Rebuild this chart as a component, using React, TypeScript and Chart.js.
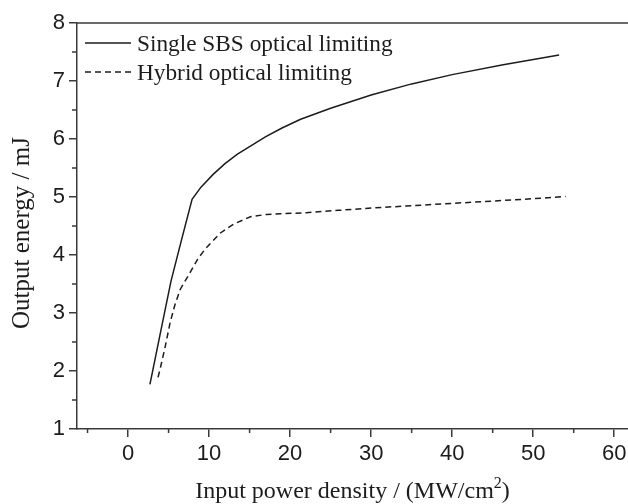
import { useEffect, useRef } from 'react';
import { Chart, registerables } from 'chart.js';

Chart.register(...registerables);

// ---- data ----
const solidX = [2.7, 4.0, 5.3, 6.6, 7.9, 9.0, 10.5, 12.0, 13.5, 15.0, 17.0, 19.0, 21.3, 25.0, 30.0, 35.0, 40.0, 46.3, 53.2];
const solidY = [1.77, 2.66, 3.55, 4.26, 4.96, 5.17, 5.39, 5.58, 5.74, 5.87, 6.04, 6.19, 6.34, 6.53, 6.76, 6.95, 7.11, 7.28, 7.45];

const hybridX = [3.7, 4.0, 4.6, 5.2, 5.8, 6.45, 7.5, 8.6, 9.5, 11.4, 13.0, 15.1, 17.1, 18.8, 22.0, 26.0, 30.0, 35.0, 40.0, 45.0, 50.0, 54.0];
const hybridY = [1.89, 2.06, 2.43, 2.84, 3.15, 3.41, 3.66, 3.93, 4.10, 4.38, 4.53, 4.66, 4.70, 4.71, 4.73, 4.77, 4.81, 4.85, 4.89, 4.93, 4.97, 5.01];

const xTickValues = [0, 10, 20, 30, 40, 50, 60];
const xMinorTickValues = [-5, 5, 15, 25, 35, 45, 55];
const yTickValues = [1, 2, 3, 4, 5, 6, 7, 8];
const yMinorTickValues = [1.5, 2.5, 3.5, 4.5, 5.5, 6.5, 7.5];

const seriesLabels = ['Single SBS optical limiting', 'Hybrid optical limiting'];
const xTitleMain = 'Input power density / (MW/cm';
const xTitleSup = '2';
const xTitleEnd = ')';
const yTitle = 'Output energy / mJ';

const X_MIN = -6.3;
const X_MAX = 61.7;
const Y_MIN = 1;
const Y_MAX = 8;

const INK = '#1c1c1c';
const AXIS = '#3a3a3a';
const SERIF = '"Liberation Serif", "DejaVu Serif", serif';
const SANS = '"Liberation Sans", Arial, sans-serif';

export default function App() {
  const ref = useRef<HTMLCanvasElement>(null);

  useEffect(() => {
    document.body.style.margin = '0';
    const canvas = ref.current;
    if (!canvas) return;

    const decorPlugin = {
      id: 'decor',
      afterDraw(chart: any) {
        const { ctx, chartArea: a, scales } = chart;
        const xs = scales.x;
        const ys = scales.y;
        ctx.save();
        // top frame line
        ctx.strokeStyle = AXIS;
        ctx.lineWidth = 1.5;
        ctx.beginPath();
        ctx.moveTo(a.left, a.top);
        ctx.lineTo(a.right + 2, a.top);
        ctx.stroke();
        // minor ticks
        ctx.beginPath();
        for (const v of xMinorTickValues) {
          const px = xs.getPixelForValue(v);
          ctx.moveTo(px, a.bottom);
          ctx.lineTo(px, a.bottom + 4);
        }
        for (const v of yMinorTickValues) {
          const py = ys.getPixelForValue(v);
          ctx.moveTo(a.left, py);
          ctx.lineTo(a.left - 5, py);
        }
        ctx.stroke();

        // legend
        ctx.strokeStyle = INK;
        ctx.lineWidth = 1.5;
        ctx.setLineDash([]);
        ctx.beginPath();
        ctx.moveTo(85, 43);
        ctx.lineTo(131, 43);
        ctx.stroke();
        ctx.setLineDash([6, 4]);
        ctx.beginPath();
        ctx.moveTo(85, 72);
        ctx.lineTo(131, 72);
        ctx.stroke();
        ctx.setLineDash([]);
        ctx.fillStyle = INK;
        ctx.font = `23.3px ${SERIF}`;
        ctx.textAlign = 'left';
        ctx.textBaseline = 'alphabetic';
        ctx.fillText(seriesLabels[0], 137, 51);
        ctx.fillText(seriesLabels[1], 137, 80);

        // x title with superscript
        const mainFont = `24px ${SERIF}`;
        const supFont = `16px ${SERIF}`;
        ctx.font = mainFont;
        const w1 = ctx.measureText(xTitleMain).width;
        const w3 = ctx.measureText(xTitleEnd).width;
        ctx.font = supFont;
        const w2 = ctx.measureText(xTitleSup).width;
        const total = w1 + w2 + w3;
        const cx = (a.left + a.right) / 2;
        const x0 = cx - total / 2;
        const base = 498;
        ctx.font = mainFont;
        ctx.fillText(xTitleMain, x0, base);
        ctx.font = supFont;
        ctx.fillText(xTitleSup, x0 + w1, base - 10);
        ctx.font = mainFont;
        ctx.fillText(xTitleEnd, x0 + w1 + w2, base);

        // y title
        ctx.translate(22, 233);
        ctx.rotate(-Math.PI / 2);
        ctx.textAlign = 'center';
        ctx.textBaseline = 'middle';
        ctx.font = `25px ${SERIF}`;
        ctx.fillText(yTitle, 0, 0);
        ctx.restore();
      },
    };

    const chart = new Chart(canvas, {
      type: 'scatter',
      data: {
        datasets: [
          {
            label: seriesLabels[0],
            data: solidX.map((x, i) => ({ x, y: solidY[i] })),
            showLine: true,
            borderColor: INK,
            borderWidth: 1.5,
            pointRadius: 0,
            tension: 0,
          },
          {
            label: seriesLabels[1],
            data: hybridX.map((x, i) => ({ x, y: hybridY[i] })),
            showLine: true,
            borderColor: INK,
            borderWidth: 1.5,
            borderDash: [6, 4],
            pointRadius: 0,
            tension: 0,
          },
        ],
      },
      options: {
        animation: false,
        responsive: false,
        layout: { padding: { top: 23, left: 0, right: 0, bottom: 0 } },
        plugins: {
          legend: { display: false },
          tooltip: { enabled: false },
        },
        scales: {
          x: {
            type: 'linear',
            min: X_MIN,
            max: X_MAX,
            afterBuildTicks: (scale: any) => {
              scale.ticks = xTickValues.map((v) => ({ value: v }));
            },
            afterFit: (scale: any) => {
              scale.height = 75;
              scale.paddingLeft = 0;
              scale.paddingRight = 0;
            },
            grid: {
              display: true,
              drawOnChartArea: false,
              drawTicks: true,
              tickLength: 8,
              color: AXIS,
              lineWidth: 1.5,
            },
            border: { display: true, color: AXIS, width: 1.5 },
            ticks: {
              color: INK,
              font: { family: SANS, size: 22 },
              padding: 4,
              maxRotation: 0,
              autoSkip: false,
              callback: (v: any) => String(v),
            },
          },
          y: {
            type: 'linear',
            min: Y_MIN,
            max: Y_MAX,
            afterBuildTicks: (scale: any) => {
              scale.ticks = yTickValues.map((v) => ({ value: v }));
            },
            afterFit: (scale: any) => {
              scale.width = 77;
              scale.paddingTop = 0;
              scale.paddingBottom = 0;
            },
            grid: {
              display: true,
              drawOnChartArea: false,
              drawTicks: true,
              tickLength: 8,
              color: AXIS,
              lineWidth: 1.5,
            },
            border: { display: true, color: AXIS, width: 1.5 },
            ticks: {
              color: INK,
              font: { family: SANS, size: 22 },
              padding: 4,
              autoSkip: false,
              callback: (v: any) => String(v),
            },
          },
        },
      },
      plugins: [decorPlugin],
    } as any);

    return () => chart.destroy();
  }, []);

  return (
    <div style={{ width: 628, height: 504 }}>
      <canvas ref={ref} width={628} height={504} style={{ display: 'block' }} />
    </div>
  );
}
